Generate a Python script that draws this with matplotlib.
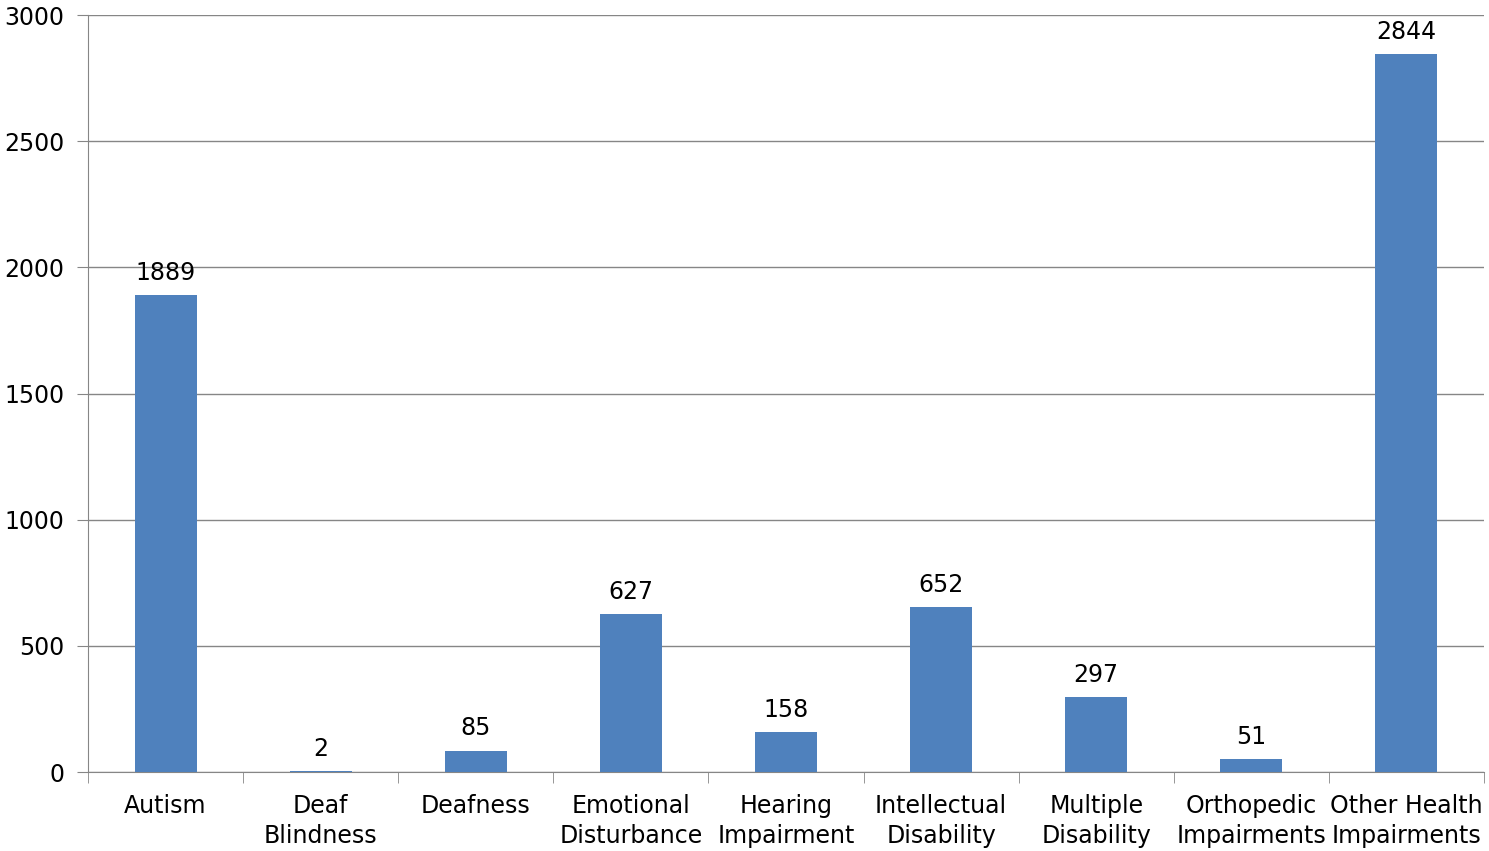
import matplotlib.pyplot as plt
import numpy as np

categories = ["Autism", "Deaf\nBlindness", "Deafness", "Emotional\nDisturbance",
              "Hearing\nImpairment", "Intellectual\nDisability", "Multiple\nDisability",
              "Orthopedic\nImpairments", "Other Health\nImpairments"]
values = [1889, 2, 85, 627, 158, 652, 297, 51, 2844]
yticks = [0, 500, 1000, 1500, 2000, 2500, 3000]

fig = plt.figure(figsize=(14.89, 8.51), dpi=100)
ax = fig.add_axes([88 / 1489, 79 / 851, 1396 / 1489, 757 / 851])

x = np.arange(len(categories))
ax.bar(x, values, width=0.4, color='#4F81BD', zorder=3)
for xi, v in zip(x, values):
    ax.text(xi, v + 40, str(v), ha='center', va='bottom', fontsize=17, color='black')

ax.set_xlim(-0.5, len(categories) - 0.5)
ax.set_ylim(0, 3000)
ax.set_yticks(yticks)
ax.set_yticklabels([str(t) for t in yticks], fontsize=17)
ax.yaxis.grid(True, color='#868686', linewidth=1, zorder=0)

# category labels centered, tick marks at boundaries
ax.set_xticks(x)
ax.set_xticklabels(categories, fontsize=17, linespacing=1.3)
ax.tick_params(axis='x', length=0, pad=16)
ax.set_xticks(np.arange(len(categories) + 1) - 0.5, minor=True)
ax.tick_params(axis='x', which='minor', length=8, color='#868686')
ax.tick_params(axis='y', length=8, color='#868686', pad=9)

for s in ['top', 'right']:
    ax.spines[s].set_visible(False)
for s in ['left', 'bottom']:
    ax.spines[s].set_color('#868686')

fig.savefig('out.png', dpi=100)
